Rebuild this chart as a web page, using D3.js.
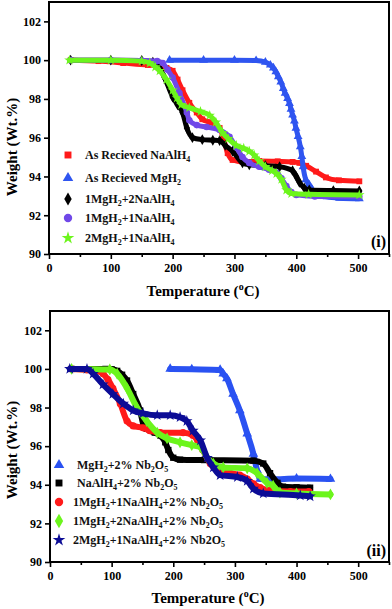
<!DOCTYPE html>
<html><head><meta charset="utf-8">
<script src="https://cdn.jsdelivr.net/npm/d3@7"></script>
<style>body{margin:0;background:#fff}svg{display:block}</style>
</head><body><svg id="c" width="392" height="609"></svg>
<script>
// ---------- DATA (temperature in °C, weight in Wt.%) ----------
const xTicks = [0, 100, 200, 300, 400, 500];
const xMinorTicks = [50, 150, 250, 350, 450, 550];
const yTicks = [90, 92, 94, 96, 98, 100, 102];

// Panel (i)
const naT = [35, 80, 120, 160, 180, 190, 200, 208, 216, 227, 239, 248, 260, 270, 276, 281, 289, 297, 313, 340, 370, 394, 405, 416, 432, 448, 469, 502];
const naW = [100, 99.95, 99.85, 99.75, 99.68, 99.6, 99.45, 99.0, 98.45, 97.8, 97.3, 96.95, 96.8, 96.65, 96.5, 96.1, 95.2, 94.85, 94.75, 94.8, 94.78, 94.75, 94.7, 94.55, 94.25, 93.95, 93.8, 93.75];

const mgT = [195, 250, 300, 335, 350, 358, 363, 367, 371, 375, 379, 382, 386, 389, 391.5, 394, 397, 399.5, 403, 406.5, 409, 411, 415.5, 421, 426, 435, 450, 470, 502];
const mgW = [100, 100, 100, 99.98, 99.9, 99.75, 99.6, 99.4, 99.15, 98.88, 98.54, 98.29, 98.03, 97.77, 97.47, 97.17, 96.86, 96.49, 96.06, 95.54, 95.03, 94.51, 93.83, 93.57, 93.32, 93.1, 92.95, 92.88, 92.85];

const m1n2T = [35, 100, 150, 168, 179, 187, 200, 208, 216, 223, 232, 248, 265, 276, 285, 297, 313, 324, 350, 373, 394, 400, 405, 413, 421, 460, 502];
const m1n2W = [100, 100, 99.98, 99.9, 99.6, 99.1, 98.1, 97.7, 97.3, 96.5, 96.0, 95.9, 95.87, 95.85, 95.6, 95.3, 94.7, 94.6, 94.55, 94.5, 94.3, 94.0, 93.7, 93.4, 93.3, 93.27, 93.25];

const m1n1T = [35, 100, 150, 175, 184, 192, 200, 211, 223, 227, 239, 255, 276, 292, 303, 313, 324, 340, 356, 368, 376, 384, 392, 400, 430, 502];
const m1n1W = [100, 100, 99.98, 99.95, 99.85, 99.5, 99.1, 98.3, 97.3, 96.9, 96.65, 96.55, 96.4, 96.05, 95.5, 95.0, 94.7, 94.5, 94.35, 94.2, 93.9, 93.5, 93.2, 93.05, 92.97, 92.95];

const m2n1T = [33, 100, 150, 163, 172, 179, 190, 200, 207, 214, 227, 245, 260, 270, 281, 290, 303, 315, 324, 332, 340, 350, 361, 368, 376, 384, 392, 420, 502];
const m2n1W = [100, 100, 99.95, 99.85, 99.65, 99.45, 99.0, 98.45, 98.05, 97.7, 97.55, 97.35, 97.15, 96.8, 96.25, 95.95, 95.6, 95.45, 95.3, 95.1, 94.8, 94.5, 94.3, 94.15, 93.85, 93.3, 93.12, 93.08, 93.05];

// Panel (ii)
const mgNbT = [195, 230, 276, 281, 287, 297, 308, 320, 330, 336, 341, 360, 400, 455];
const mgNbW = [100, 99.98, 99.95, 99.75, 99.5, 98.7, 97.85, 96.65, 95.6, 94.75, 94.3, 94.28, 94.32, 94.3];

const naNbT = [35, 90, 100, 109, 117, 125, 135, 146, 151, 157, 170, 179, 187, 192, 200, 211, 250, 330, 346, 357, 369, 378, 400, 422];
const naNbW = [100, 100, 99.98, 99.9, 99.7, 99.4, 98.7, 97.85, 97.2, 96.9, 96.7, 96.55, 96.2, 95.8, 95.4, 95.3, 95.28, 95.25, 95.1, 94.6, 94.1, 93.9, 93.87, 93.85];

const m1n1NbT = [35, 60, 80, 86, 94, 102, 114, 125, 135, 151, 162, 179, 216, 232, 240, 248, 260, 271, 292, 308, 320, 330, 341, 357, 390, 420];
const m1n1NbW = [100, 99.95, 99.88, 99.75, 99.45, 99.0, 98.2, 97.3, 97.05, 96.95, 96.8, 96.7, 96.7, 96.55, 96.25, 95.8, 95.1, 94.75, 94.6, 94.5, 94.3, 94.05, 93.85, 93.7, 93.65, 93.65];

const m1n2NbT = [35, 97, 109, 125, 141, 157, 174, 190, 211, 230, 244, 255, 265, 281, 320, 336, 352, 362, 373, 400, 455];
const m1n2NbW = [100, 99.97, 99.75, 99.0, 98.0, 97.3, 96.7, 96.4, 96.2, 96.05, 95.95, 95.4, 95.1, 94.9, 94.85, 94.6, 94.1, 93.95, 93.6, 93.55, 93.5];

const m2n1NbT = [32, 60, 70, 86, 102, 119, 135, 151, 174, 195, 211, 222, 232, 244, 255, 265, 276, 304, 320, 330, 346, 406, 422];
const m2n1NbW = [100, 100, 99.75, 99.2, 98.7, 98.2, 97.85, 97.7, 97.6, 97.6, 97.5, 97.3, 96.8, 96.3, 95.4, 94.9, 94.5, 94.4, 94.2, 93.8, 93.55, 93.45, 93.4];

const labels1 = ["As Recieved NaAlH_4", "As Recieved MgH_2", "1MgH_2+2NaAlH_4", "1MgH_2+1NaAlH_4", "2MgH_2+1NaAlH_4"];
const labels2 = ["MgH_2+2% Nb_2O_5", "NaAlH_4+2% Nb_2O_5", "1MgH_2+1NaAlH_4+2% Nb_2O_5", "1MgH_2+2NaAlH_4+2% Nb_2O_5", "2MgH_2+1NaAlH_4+2% Nb2O_5"];

// ---------- DRAWING ----------
const svg = d3.select("#c");
const FONT = "'Liberation Serif','Times New Roman',serif";

function rich(t, str, sub) {
  const parts = str.split(/([_^]\w)/).filter(s => s.length);
  let shift = 0;
  parts.forEach(p => {
    if (p[0] === '_' || p[0] === '^') {
      const d = p[0] === '_' ? sub.down : -sub.up;
      t.append('tspan').attr('dy', d - shift).attr('font-size', sub.size).text(p.slice(1));
      shift = d;
    } else {
      t.append('tspan').attr('dy', -shift).text(p);
      shift = 0;
    }
  });
}

function panel(cfg) {
  const x = d3.scaleLinear([0, 550], [cfg.left, cfg.right]);
  const y = d3.scaleLinear([90, 103], [cfg.bottom, cfg.top]);
  const g = svg.append("g");

  // series
  cfg.series.forEach(s => {
    const pts = s.T.map((t, i) => [t, s.W[i]]);
    g.append("path").datum(pts)
      .attr("d", d3.line().x(d => x(d[0])).y(d => y(d[1])).curve(d3.curveMonotoneX))
      .attr("fill", "none").attr("stroke", s.color).attr("stroke-width", cfg.lw)
      .attr("stroke-linejoin", "round").attr("stroke-linecap", "round");
    g.selectAll(null).data(pts).enter().append("path")
      .attr("transform", d => `translate(${x(d[0])},${y(d[1])})`)
      .attr("d", d3.symbol(s.symbol, s.msize))
      .attr("fill", s.color);
  });

  // axes
  const xa = g.append("g").attr("transform", `translate(0,${cfg.bottom})`)
    .call(d3.axisBottom(x).tickValues(xTicks).tickSize(5).tickPadding(4).tickFormat(d3.format("d")));
  const xm = g.append("g").attr("transform", `translate(0,${cfg.bottom})`)
    .call(d3.axisBottom(x).tickValues(xMinorTicks).tickSize(3).tickFormat(""));
  const ya = g.append("g").attr("transform", `translate(${cfg.left},0)`)
    .call(d3.axisLeft(y).tickValues(yTicks).tickSize(5).tickPadding(3).tickFormat(d3.format("d")));
  [xa, xm, ya].forEach(a => {
    a.select(".domain").remove();
    a.selectAll("line").attr("stroke", "#000").attr("stroke-width", 1.6);
    a.selectAll("text").attr("font-family", FONT).attr("font-weight", "bold").attr("font-size", 12).attr("fill", "#000");
  });

  // frame
  g.append("rect").attr("x", cfg.left).attr("y", cfg.top)
    .attr("width", cfg.right - cfg.left).attr("height", cfg.bottom - cfg.top)
    .attr("fill", "none").attr("stroke", "#000").attr("stroke-width", 2);

  // titles
  const xt = g.append("text").attr("x", cfg.xTitleX).attr("y", cfg.xTitleY)
    .attr("text-anchor", "middle").attr("font-family", FONT).attr("font-weight", "bold").attr("font-size", 15);
  rich(xt, "Temperature (^oC)", {down: 3, up: 6, size: 10});
  g.append("text").attr("transform", `translate(${cfg.yTitleX},${cfg.yTitleY}) rotate(-90)`)
    .attr("text-anchor", "middle").attr("font-family", FONT).attr("font-weight", "bold").attr("font-size", 15)
    .text("Weight (Wt.%)");
  g.append("text").attr("x", cfg.right - 3).attr("y", cfg.tagY).attr("text-anchor", "end")
    .attr("font-family", FONT).attr("font-weight", "bold").attr("font-size", 16).text(cfg.tag);

  // legend
  cfg.series.forEach((s, i) => {
    const ly = cfg.legY[i];
    g.append("path").attr("transform", `translate(${cfg.legMX},${ly})`)
      .attr("d", d3.symbol(s.symbol, s.lsize)).attr("fill", s.color);
    const t = g.append("text").attr("x", cfg.legTX[i]).attr("y", ly + 4)
      .attr("font-family", FONT).attr("font-weight", "bold").attr("font-size", 12).attr("fill", "#111");
    rich(t, cfg.labels[i], {down: 3, up: 5, size: 8});
  });
}

const red = "#ff1a1a", blue = "#2f55f0", black = "#000", purple = "#7048e8", green = "#6cf51c",
      blue2 = "#2a52f2", navy = "#0c0c96";

// panel (i) — draw order by layering in reference
const s1 = [
  {T: naT, W: naW, color: red, symbol: d3.symbolSquare, msize: 34, lsize: 48},
  {T: mgT, W: mgW, color: blue, symbol: d3.symbolTriangle, msize: 34, lsize: 48},
  {T: m1n2T, W: m1n2W, color: black, symbol: d3.symbolDiamond, msize: 34, lsize: 48},
  {T: m1n1T, W: m1n1W, color: purple, symbol: d3.symbolCircle, msize: 34, lsize: 55},
  {T: m2n1T, W: m2n1W, color: green, symbol: d3.symbolStar, msize: 34, lsize: 50}
];
panel({
  left: 49, right: 389, top: 2, bottom: 254, lw: 5,
  series: s1, labels: labels1,
  xTitleX: 203, xTitleY: 296, yTitleX: 17, yTitleY: 147, tag: "(i)", tagY: 247,
  legMX: 68, legTX: [85, 85, 85, 85, 85], legY: [155, 178, 199, 218, 238]
});

const s2 = [
  {T: mgNbT, W: mgNbW, color: blue2, symbol: d3.symbolTriangle, msize: 40, lsize: 48},
  {T: naNbT, W: naNbW, color: black, symbol: d3.symbolSquare, msize: 40, lsize: 48},
  {T: m1n1NbT, W: m1n1NbW, color: red, symbol: d3.symbolCircle, msize: 40, lsize: 55},
  {T: m1n2NbT, W: m1n2NbW, color: green, symbol: d3.symbolDiamond, msize: 40, lsize: 60},
  {T: m2n1NbT, W: m2n1NbW, color: navy, symbol: d3.symbolStar, msize: 40, lsize: 50}
];
panel({
  left: 50, right: 389, top: 311, bottom: 562, lw: 6,
  series: s2, labels: labels2,
  xTitleX: 208, xTitleY: 603, yTitleX: 17, yTitleY: 450, tag: "(ii)", tagY: 556,
  legMX: 59, legTX: [77, 77, 73, 73, 73], legY: [465, 483, 502, 521, 540]
});
</script>
</body></html>
